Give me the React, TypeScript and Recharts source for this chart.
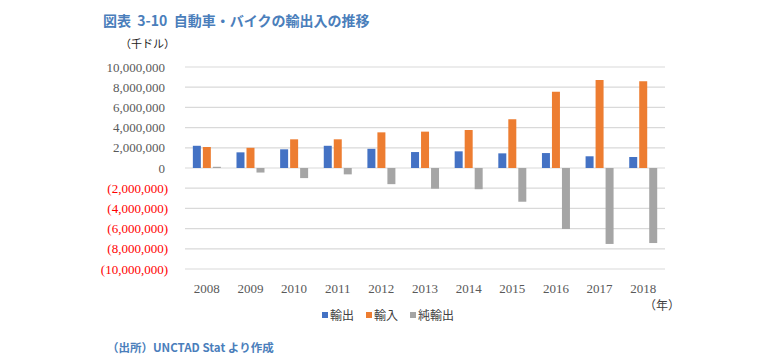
import { BarChart, Bar, XAxis, YAxis, CartesianGrid } from 'recharts';

const YEARS = ['2008', '2009', '2010', '2011', '2012', '2013', '2014', '2015', '2016', '2017', '2018'];
const EXPORTS = [2200000, 1550000, 1850000, 2200000, 1900000, 1580000, 1650000, 1450000, 1480000, 1160000, 1090000];
const IMPORTS = [2080000, 2000000, 2840000, 2840000, 3530000, 3600000, 3760000, 4820000, 7550000, 8710000, 8580000];
const NET_EXPORTS = [120000, -450000, -1000000, -630000, -1600000, -2050000, -2100000, -3340000, -6040000, -7520000, -7430000];
const Y_TICKS = [-10000000, -8000000, -6000000, -4000000, -2000000, 0, 2000000, 4000000, 6000000, 8000000, 10000000];

const SERIES = [
  { key: 'exports', name: '輸出', color: '#4472C4' },
  { key: 'imports', name: '輸入', color: '#ED7D31' },
  { key: 'net', name: '純輸出', color: '#A5A5A5' },
];

const data = YEARS.map((year, i) => ({
  year,
  exports: EXPORTS[i],
  imports: IMPORTS[i],
  net: NET_EXPORTS[i],
}));

const JP = '"Noto Sans CJK JP", "Noto Sans", sans-serif';
const SERIF = '"Liberation Serif", "DejaVu Serif", serif';
const TITLE_BLUE = '#4a7ebb';

// Excel-style number format: negatives in red parentheses, digits stay aligned
function YTick({ x, y, payload }: any) {
  const v = payload.value as number;
  const neg = v < 0;
  const label = neg ? `(${Math.abs(v).toLocaleString('en-US')})` : v.toLocaleString('en-US');
  return (
    <text
      x={neg ? x + 3 : x}
      y={y}
      dy="0.35em"
      textAnchor="end"
      fontFamily={SERIF}
      fontSize={13}
      fill={neg ? '#ff0000' : '#595959'}
    >
      {label}
    </text>
  );
}

function XTick({ x, y, payload }: any) {
  return (
    <text x={x} y={y + 16} textAnchor="middle" fontFamily={SERIF} fontSize={13} fill="#595959">
      {payload.value}
    </text>
  );
}

export default function App() {
  return (
    <div style={{ position: 'absolute', left: 0, top: 0, width: 783, height: 364, background: '#fff' }}>
      <div
        style={{
          position: 'absolute',
          left: 103,
          top: 10,
          fontFamily: JP,
          fontSize: 14,
          fontWeight: 700,
          color: TITLE_BLUE,
          lineHeight: '20px',
          whiteSpace: 'pre',
        }}
      >
        {'図表  3-10  自動車・バイクの輸出入の推移'}
      </div>
      <div
        style={{
          position: 'absolute',
          left: 120,
          top: 35,
          fontFamily: JP,
          fontSize: 11,
          color: '#222',
          lineHeight: '16px',
          whiteSpace: 'nowrap',
        }}
      >
        （千ドル）
      </div>

      <BarChart
        width={783}
        height={364}
        data={data}
        margin={{ top: 67, right: 118, bottom: 65, left: 0 }}
        barCategoryGap="18%"
        barGap={2}
      >
        <CartesianGrid vertical={false} stroke="#d9d9d9" strokeWidth={1.2} />
        <XAxis dataKey="year" axisLine={false} tickLine={false} height={30} tick={<XTick />} interval={0} />
        <YAxis
          type="number"
          domain={[-10000000, 10000000]}
          ticks={Y_TICKS}
          width={185}
          axisLine={false}
          tickLine={false}
          tick={<YTick />}
          tickMargin={14}
          interval={0}
        />
        {SERIES.map((s) => (
          <Bar key={s.key} dataKey={s.key} name={s.name} fill={s.color} isAnimationActive={false} />
        ))}
      </BarChart>

      <div
        style={{
          position: 'absolute',
          left: 644,
          top: 296,
          fontFamily: JP,
          fontSize: 12,
          color: '#404040',
          lineHeight: '18px',
          whiteSpace: 'nowrap',
        }}
      >
        （年）
      </div>

      <div
        style={{
          position: 'absolute',
          left: 322,
          top: 306,
          display: 'flex',
          alignItems: 'center',
          fontFamily: JP,
          fontSize: 12,
          color: '#404040',
          lineHeight: '18px',
          whiteSpace: 'nowrap',
        }}
      >
        {SERIES.map((s) => (
          <span key={s.key} style={{ display: 'flex', alignItems: 'center', marginRight: 12 }}>
            <span style={{ display: 'inline-block', width: 6, height: 6, background: s.color, marginRight: 2 }} />
            {s.name}
          </span>
        ))}
      </div>

      <div
        style={{
          position: 'absolute',
          left: 107,
          top: 338,
          fontFamily: JP,
          fontSize: 11.5,
          fontWeight: 700,
          color: TITLE_BLUE,
          lineHeight: '18px',
          whiteSpace: 'nowrap',
        }}
      >
        （出所）UNCTAD Stat より作成
      </div>
    </div>
  );
}
